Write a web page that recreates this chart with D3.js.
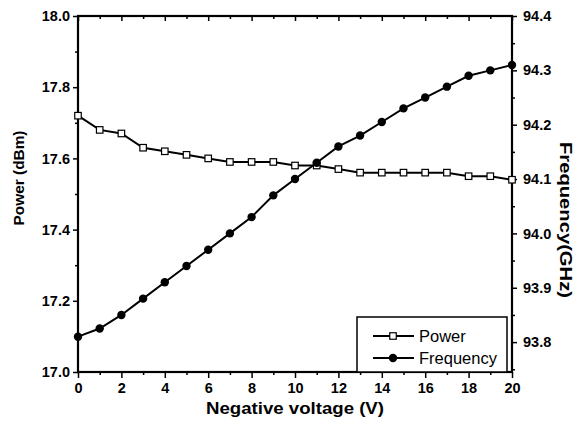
<!DOCTYPE html>
<html>
<head>
<meta charset="utf-8">
<script src="https://cdn.jsdelivr.net/npm/d3@7"></script>
<style>
  html, body { margin: 0; padding: 0; background: #fff; }
  svg { display: block; }
</style>
</head>
<body>
<svg id="chart" width="584" height="438"></svg>
<script>
// Negative bias voltage (V)
const voltage = [0, 1, 2, 3, 4, 5, 6, 7, 8, 9, 10, 11, 12, 13, 14, 15, 16, 17, 18, 19, 20];
// Output power (dBm), left axis
const power = [17.72, 17.68, 17.67, 17.63, 17.62, 17.61, 17.60, 17.59, 17.59, 17.59, 17.58,
               17.58, 17.57, 17.56, 17.56, 17.56, 17.56, 17.56, 17.55, 17.55, 17.54];
// Oscillation frequency (GHz), right axis
const frequency = [93.81, 93.825, 93.85, 93.88, 93.91, 93.94, 93.97, 94.00, 94.03, 94.07, 94.10,
                   94.13, 94.16, 94.18, 94.205, 94.23, 94.25, 94.27, 94.29, 94.30, 94.31];

const xTicks = [0, 2, 4, 6, 8, 10, 12, 14, 16, 18, 20];
const powerTicks = [17.0, 17.2, 17.4, 17.6, 17.8, 18.0];
const freqTicks = [93.8, 93.9, 94.0, 94.1, 94.2, 94.3, 94.4];
const legendLabels = ["Power", "Frequency"];

const svg = d3.select("#chart");
const m = { left: 78, right: 512, top: 16, bottom: 372 };
const font = "'Liberation Sans', Arial, Helvetica, sans-serif";

const x = d3.scaleLinear().domain([0, 20]).range([m.left, m.right]);
const yP = d3.scaleLinear().domain([17.0, 18.0]).range([m.bottom, m.top]);
const yF = d3.scaleLinear().domain([93.745, 94.4]).range([m.bottom, m.top]);

function styleAxis(g) {
  g.select(".domain").remove();
  g.selectAll("line").attr("stroke", "#000").attr("stroke-width", 1.5);
  g.selectAll("text")
    .attr("font-family", font)
    .attr("font-weight", "bold")
    .attr("font-size", 14.5)
    .attr("fill", "#000");
}

// minor ticks
const minorX = d3.range(0, 21, 1).filter(v => v % 2 !== 0);
const minorP = d3.range(17.1, 18.0, 0.2).map(v => +v.toFixed(2));
const minorF = d3.range(93.75, 94.4, 0.1).map(v => +v.toFixed(2));

// bottom axis
svg.append("g").attr("transform", `translate(0,${m.bottom})`)
  .call(d3.axisBottom(x).tickValues(xTicks).tickFormat(d3.format("d")).tickSize(6).tickPadding(5))
  .call(styleAxis);
svg.append("g").attr("transform", `translate(0,${m.bottom})`)
  .call(d3.axisBottom(x).tickValues(minorX).tickFormat("").tickSize(3))
  .call(styleAxis);

// top axis (ticks pointing inward)
svg.append("g").attr("transform", `translate(0,${m.top})`)
  .call(d3.axisBottom(x).tickValues(xTicks).tickFormat("").tickSize(5))
  .call(styleAxis);
svg.append("g").attr("transform", `translate(0,${m.top})`)
  .call(d3.axisBottom(x).tickValues(minorX).tickFormat("").tickSize(3))
  .call(styleAxis);

// left axis: power
svg.append("g").attr("transform", `translate(${m.left},0)`)
  .call(d3.axisLeft(yP).tickValues(powerTicks).tickFormat(d3.format(".1f")).tickSize(5).tickPadding(3))
  .call(styleAxis);
svg.append("g").attr("transform", `translate(${m.left},0)`)
  .call(d3.axisLeft(yP).tickValues(minorP).tickFormat("").tickSize(3))
  .call(styleAxis);

// right axis: frequency
svg.append("g").attr("transform", `translate(${m.right},0)`)
  .call(d3.axisRight(yF).tickValues(freqTicks).tickFormat(d3.format(".1f")).tickSize(5).tickPadding(6))
  .call(styleAxis);
svg.append("g").attr("transform", `translate(${m.right},0)`)
  .call(d3.axisRight(yF).tickValues(minorF).tickFormat("").tickSize(3))
  .call(styleAxis);

// frame
svg.append("rect")
  .attr("x", m.left).attr("y", m.top)
  .attr("width", m.right - m.left).attr("height", m.bottom - m.top)
  .attr("fill", "none").attr("stroke", "#000").attr("stroke-width", 2.2);

// axis titles
svg.append("text")
  .attr("x", 295).attr("y", 414)
  .attr("text-anchor", "middle")
  .attr("font-family", font).attr("font-weight", "bold").attr("font-size", 16)
  .attr("textLength", 178).attr("lengthAdjust", "spacingAndGlyphs")
  .text("Negative voltage (V)");
svg.append("text")
  .attr("transform", "translate(24,178) rotate(-90)")
  .attr("text-anchor", "middle")
  .attr("font-family", font).attr("font-weight", "bold").attr("font-size", 15.5)
  .attr("textLength", 95).attr("lengthAdjust", "spacingAndGlyphs")
  .text("Power (dBm)");
svg.append("text")
  .attr("transform", "translate(560,220) rotate(90)")
  .attr("text-anchor", "middle")
  .attr("font-family", font).attr("font-weight", "bold").attr("font-size", 16)
  .attr("textLength", 156).attr("lengthAdjust", "spacingAndGlyphs")
  .text("Frequency(GHz)");

// series
const pts = voltage.map((v, i) => ({ v, p: power[i], f: frequency[i] }));

const lineP = d3.line().x(d => x(d.v)).y(d => yP(d.p));
const lineF = d3.line().x(d => x(d.v)).y(d => yF(d.f));

svg.append("path").datum(pts).attr("d", lineP)
  .attr("fill", "none").attr("stroke", "#000").attr("stroke-width", 2);
svg.append("path").datum(pts).attr("d", lineF)
  .attr("fill", "none").attr("stroke", "#000").attr("stroke-width", 2);

const sq = 6.5;
svg.append("g").selectAll("rect").data(pts).join("rect")
  .attr("x", d => x(d.v) - sq / 2).attr("y", d => yP(d.p) - sq / 2)
  .attr("width", sq).attr("height", sq)
  .attr("fill", "#fff").attr("stroke", "#000").attr("stroke-width", 1.2);

svg.append("g").selectAll("circle").data(pts).join("circle")
  .attr("cx", d => x(d.v)).attr("cy", d => yF(d.f)).attr("r", 4.2)
  .attr("fill", "#000");

// legend
const lg = svg.append("g");
lg.append("rect")
  .attr("x", 357).attr("y", 317).attr("width", 150).attr("height", m.bottom - 317)
  .attr("fill", "#fff").attr("stroke", "#000").attr("stroke-width", 1.5);
legendLabels.forEach((label, i) => {
  const cy = 336 + i * 22;
  lg.append("line").attr("x1", 373).attr("x2", 414).attr("y1", cy).attr("y2", cy)
    .attr("stroke", "#000").attr("stroke-width", 2);
  if (i === 0) {
    lg.append("rect").attr("x", 393 - sq / 2).attr("y", cy - sq / 2)
      .attr("width", sq).attr("height", sq)
      .attr("fill", "#fff").attr("stroke", "#000").attr("stroke-width", 1.2);
  } else {
    lg.append("circle").attr("cx", 393).attr("cy", cy).attr("r", 4.2).attr("fill", "#000");
  }
  lg.append("text").attr("x", 419).attr("y", cy + 6)
    .attr("font-family", font).attr("font-size", 16.5).attr("fill", "#000")
    .text(label);
});
</script>
</body>
</html>
